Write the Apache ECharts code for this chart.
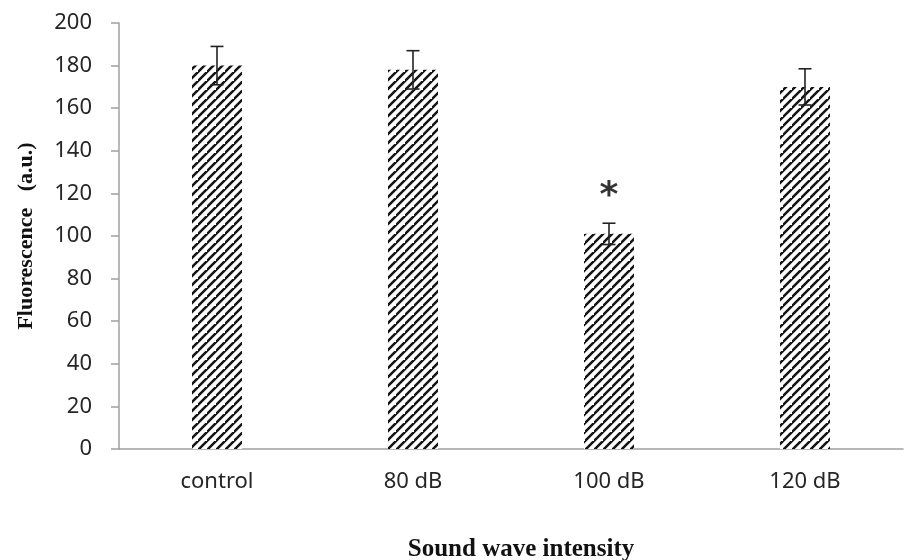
<!DOCTYPE html>
<html>
<head>
<meta charset="utf-8">
<script src="https://cdn.jsdelivr.net/npm/echarts@6/dist/echarts.min.js"></script>
<style>html,body{margin:0;padding:0;background:#fff}#c{width:920px;height:560px}</style>
</head>
<body>
<div id="c"></div>
<script>
var categories = ['control', '80 dB', '100 dB', '120 dB'];
var fluorescence = [180, 178, 101, 170];
var errors = [9, 9, 5, 8.5];
var significance = ['', '', '*', ''];
var yTicks = [0, 20, 40, 60, 80, 100, 120, 140, 160, 180, 200];

function hatch() {
  var s = 9;
  var c = document.createElement('canvas');
  c.width = s; c.height = s;
  var g = c.getContext('2d');
  g.fillStyle = '#fff';
  g.fillRect(0, 0, s, s);
  g.strokeStyle = '#151515';
  g.lineWidth = 2.5;
  g.beginPath();
  g.moveTo(-2, s + 2); g.lineTo(s + 2, -2);
  g.moveTo(-2 - s, s + 2); g.lineTo(2, -2);
  g.moveTo(s - 2, 2 * s + 2); g.lineTo(2 * s + 2, s - 2);
  g.stroke();
  return c;
}

var chart = echarts.init(document.getElementById('c'));
var sigData = categories.map(function (c, i) {
  return { value: [i, fluorescence[i] + errors[i]], mark: significance[i] };
});
chart.setOption({
  animation: false,
  grid: { left: 119, right: 17, top: 23, bottom: 111, outerBoundsMode: 'none', containLabel: false },
  xAxis: {
    type: 'category',
    data: categories,
    name: 'Sound wave intensity',
    nameLocation: 'middle',
    nameGap: 88,
    nameTextStyle: { fontFamily: 'Liberation Serif', fontWeight: 'bold', fontSize: 25, color: '#111', padding: [0, 0, 0, 20] },
    axisLine: { lineStyle: { color: '#a0a0a0', width: 1.5 } },
    axisTick: { show: false },
    axisLabel: { fontFamily: 'Noto Sans', fontSize: 22, color: '#262626', margin: 22 }
  },
  yAxis: {
    type: 'value',
    min: yTicks[0],
    max: yTicks[yTicks.length - 1],
    interval: yTicks[1] - yTicks[0],
    name: 'Fluorescence   (a.u.)',
    nameLocation: 'middle',
    nameGap: 82,
    nameTextStyle: { fontFamily: 'Liberation Serif', fontWeight: 'bold', fontSize: 22, color: '#111' },
    axisLine: { show: true, lineStyle: { color: '#a0a0a0', width: 1.5 } },
    axisTick: { show: true, length: 8, lineStyle: { color: '#a0a0a0', width: 1.5 } },
    splitLine: { show: false },
    axisLabel: { fontFamily: 'Noto Sans', fontSize: 22, color: '#262626', margin: 27 }
  },
  series: [
    {
      type: 'bar',
      data: fluorescence,
      barWidth: 50,
      itemStyle: { color: { image: hatch(), repeat: 'repeat' } }
    },
    {
      type: 'custom',
      data: categories.map(function (c, i) { return [i, fluorescence[i] - errors[i], fluorescence[i] + errors[i]]; }),
      renderItem: function (params, api) {
        var lo = api.coord([api.value(0), api.value(1)]);
        var hi = api.coord([api.value(0), api.value(2)]);
        var hw = 6.5;
        var st = { stroke: '#222', lineWidth: 1.6 };
        return {
          type: 'group',
          children: [
            { type: 'line', shape: { x1: lo[0], y1: lo[1], x2: hi[0], y2: hi[1] }, style: st },
            { type: 'line', shape: { x1: lo[0] - hw, y1: lo[1], x2: lo[0] + hw, y2: lo[1] }, style: st },
            { type: 'line', shape: { x1: hi[0] - hw, y1: hi[1], x2: hi[0] + hw, y2: hi[1] }, style: st }
          ]
        };
      },
      z: 5
    },
    {
      type: 'scatter',
      data: sigData,
      symbolSize: 1,
      itemStyle: { color: 'transparent' },
      label: {
        show: true,
        position: 'top',
        distance: 8,
        formatter: function (p) { return p.data.mark; },
        fontFamily: 'DejaVu Sans',
        fontWeight: 'bold',
        fontSize: 36,
        color: '#000'
      },
      z: 6
    }
  ]
});
</script>
</body>
</html>
